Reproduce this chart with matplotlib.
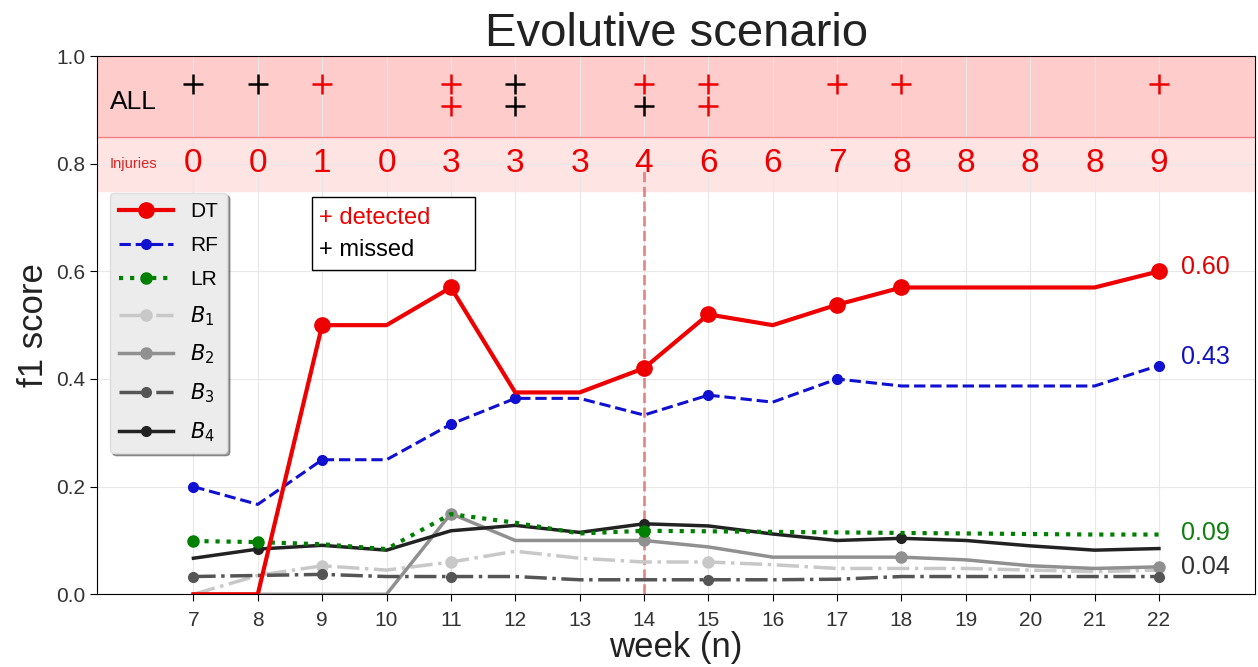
import numpy as np
import matplotlib.pyplot as plt

plt.rcParams['font.family'] = ['Liberation Sans', 'DejaVu Sans']
plt.rcParams['mathtext.fontset'] = 'dejavusans'

# ---- data ----
weeks = list(range(7, 23))
injuries = [0, 0, 1, 0, 3, 3, 3, 4, 6, 6, 7, 8, 8, 8, 8, 9]

dt = [0.0, 0.0, 0.50, 0.50, 0.57, 0.375, 0.375, 0.42, 0.52, 0.50, 0.538, 0.57, 0.57, 0.57, 0.57, 0.60]
rf = [0.20, 0.167, 0.25, 0.25, 0.316, 0.364, 0.364, 0.333, 0.37, 0.357, 0.40, 0.387, 0.387, 0.387, 0.387, 0.425]
lr = [0.099, 0.097, 0.093, 0.084, 0.149, 0.133, 0.113, 0.118, 0.117, 0.116, 0.115, 0.114, 0.113, 0.112, 0.111, 0.111]
b1 = [0.0, 0.035, 0.053, 0.045, 0.06, 0.08, 0.067, 0.06, 0.06, 0.055, 0.048, 0.048, 0.048, 0.045, 0.042, 0.045]
b2 = [0.0, 0.0, 0.0, 0.0, 0.15, 0.10, 0.10, 0.10, 0.088, 0.069, 0.069, 0.069, 0.064, 0.053, 0.048, 0.051]
b3 = [0.033, 0.035, 0.037, 0.033, 0.033, 0.033, 0.027, 0.027, 0.027, 0.027, 0.028, 0.033, 0.033, 0.033, 0.033, 0.033]
b4 = [0.067, 0.084, 0.091, 0.082, 0.118, 0.128, 0.115, 0.131, 0.127, 0.112, 0.10, 0.104, 0.10, 0.09, 0.082, 0.085]

# marker positions (weeks)
dt_marks = [9, 11, 14, 15, 17, 18, 22]
rf_marks = [7, 9, 11, 12, 15, 17, 22]
lr_marks = [7, 8, 14]
b1_marks = [9, 11, 15]
b2_marks = [11, 14, 18, 22]
b3_marks = [7, 9, 11, 15, 22]
b4_marks = [8, 14, 18]

# detection crosses: (week, row, detected)
cross_week = [7, 8, 9, 11, 11, 12, 12, 14, 14, 15, 15, 17, 18, 22]
cross_row = [0, 0, 0, 0, 1, 0, 1, 0, 1, 0, 1, 0, 0, 0]
cross_det = [0, 0, 1, 1, 1, 0, 0, 1, 0, 1, 1, 1, 1, 1]

end_labels = ["0.60", "0.43", "0.09", "0.04"]
end_colors = ["#e00000", "#1010c0", "#108010", "#333333"]
end_y = [0.608, 0.44, 0.114, 0.05]

# ---- plot ----
fig = plt.figure(figsize=(12.58, 6.67), dpi=100)
ax = fig.add_axes([0.077, 0.109, 0.921, 0.807])

def idx(marks):
    return [weeks.index(w) for w in marks]

ax.axhspan(0.85, 1.0, color='#ffcccc', zorder=0)
ax.axhspan(0.75, 0.85, color='#ffe4e4', zorder=0)
ax.axhline(0.85, color='#f08080', lw=1, zorder=1)

ax.plot(weeks, dt, '-', color='#ee0000', lw=3, marker='o', ms=11, markevery=idx(dt_marks), label='DT', zorder=6)
ax.plot(weeks, rf, '--', color='#1010d0', lw=2.2, marker='o', ms=7, markevery=idx(rf_marks), label='RF', zorder=5)
ax.plot(weeks, lr, ':', color='#008000', lw=3, marker='o', ms=8, markevery=idx(lr_marks), label='LR', zorder=5)
ax.plot(weeks, b1, '-.', color='#c8c8c8', lw=2.5, marker='o', ms=8, markevery=idx(b1_marks), label='$B_1$', zorder=4)
ax.plot(weeks, b2, '-', color='#909090', lw=2.5, marker='o', ms=8, markevery=idx(b2_marks), label='$B_2$', zorder=4)
ax.plot(weeks, b3, '-.', color='#555555', lw=2.5, marker='o', ms=7, markevery=idx(b3_marks), label='$B_3$', zorder=4)
ax.plot(weeks, b4, '-', color='#222222', lw=2.5, marker='o', ms=7, markevery=idx(b4_marks), label='$B_4$', zorder=4)

ax.axvline(14, ymin=0, ymax=0.79, color='#e04040', ls='--', lw=2, alpha=0.6, zorder=3)

# crosses in the top band
row_y = [0.948, 0.907]
for w, r, d in zip(cross_week, cross_row, cross_det):
    ax.scatter(w, row_y[r], marker='+', s=200, linewidths=1.8,
               color='#ee0000' if d else 'black', zorder=7)

ax.text(5.7, 0.915, 'ALL', fontsize=19, va='center', ha='left')
ax.text(5.7, 0.8, 'Injuries', fontsize=10.5, va='center', ha='left', color='#dd2222')
for w, n in zip(weeks, injuries):
    ax.text(w, 0.8, str(n), fontsize=24, color='#ee0000', ha='center', va='center')

for lab, c, y in zip(end_labels, end_colors, end_y):
    ax.text(22.35, y, lab, fontsize=18, color=c, ha='left', va='center')

# detected / missed box
ax.text(8.95, 0.70, '+ detected', fontsize=17, color='#ee0000', ha='left', va='center', zorder=8)
ax.text(8.95, 0.64, '+ missed', fontsize=17, color='black', ha='left', va='center', zorder=8)
box = plt.Rectangle((8.85, 0.602), 2.52, 0.136, fill=True, facecolor='white',
                    edgecolor='black', lw=1, zorder=7)
ax.add_patch(box)

ax.set_xlim(5.5, 23.5)
ax.set_ylim(0, 1.0)
ax.set_xticks(weeks)
ax.set_yticks([0.0, 0.2, 0.4, 0.6, 0.8, 1.0])
ax.tick_params(labelsize=15, length=5, labelcolor='#333333')
ax.tick_params(axis='x', pad=7)
ax.grid(True, color='#e8e8e8', lw=0.8, zorder=0)
ax.set_axisbelow(True)

ax.set_title('Evolutive scenario', fontsize=34, pad=2, color='#222222')
ax.set_xlabel('week (n)', fontsize=25, labelpad=1, color='#222222')
ax.set_ylabel('f1 score', fontsize=25, labelpad=4, color='#222222')

leg = ax.legend(loc='upper left', bbox_to_anchor=(0.011, 0.746), borderaxespad=0,
                fontsize=15, frameon=True, shadow=True, facecolor='#ececec',
                edgecolor='#dddddd', handlelength=2.6, borderpad=0.45, labelspacing=0.72)
leg.get_frame().set_alpha(1)
leg.set_zorder(9)

fig.savefig('out.png', dpi=100)
